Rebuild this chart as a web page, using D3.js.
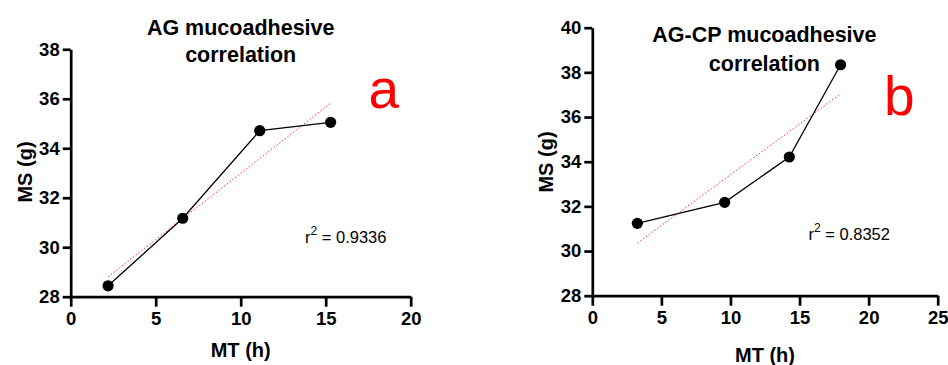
<!DOCTYPE html>
<html>
<head>
<meta charset="utf-8">
<script src="https://cdn.jsdelivr.net/npm/d3@7"></script>
<style>
  body { margin: 0; background: #fff; }
  svg { display: block; }
  text { font-family: "Liberation Sans", Arial, sans-serif; }
  .tick text { font-weight: bold; font-size: 18.5px; fill: #000; }
  .axis_title { font-weight: bold; font-size: 20px; }
  .panel_title { font-weight: bold; font-size: 21.5px; }
  .r2 { font-size: 16.5px; }
  .letter { font-size: 55px; fill: #ff0000; }
</style>
</head>
<body>
<div id="chart"></div>
<script>
// AG panel (a)
const agTime = [2.2, 6.59, 11.12, 15.29];
const agMS = [28.44, 31.17, 34.71, 35.05];
const agXTicks = [0, 5, 10, 15, 20];
const agYTicks = [28, 30, 32, 34, 36, 38];

// AG-CP panel (b)
const agcpTime = [3.26, 9.58, 14.26, 17.97];
const agcpMS = [31.24, 32.18, 34.21, 38.34];
const agcpXTicks = [0, 5, 10, 15, 20, 25];
const agcpYTicks = [28, 30, 32, 34, 36, 38, 40];

const titles = [["AG mucoadhesive", "correlation"], ["AG-CP mucoadhesive", "correlation"]];
const r2Labels = ["0.9336", "0.8352"];
const letters = ["a", "b"];

let svg = d3.select("#chart")
    .append("svg")
    .attr("width", 948)
    .attr("height", 365);

// least squares fit of y on x
function fitLine(xs, ys) {
    let mx = d3.mean(xs), my = d3.mean(ys);
    let sxy = d3.sum(xs, (x, i) => (x - mx) * (ys[i] - my));
    let sxx = d3.sum(xs, x => (x - mx) ** 2);
    let slope = sxy / sxx;
    return x => my + slope * (x - mx);
}

function drawPanel(cfg) {
    let x = d3.scaleLinear().domain(d3.extent(cfg.xTicks)).range([cfg.left, cfg.right]);
    let y = d3.scaleLinear().domain(d3.extent(cfg.yTicks)).range([cfg.bottom, cfg.top]);

    let g = svg.append("g");

    // axes
    let xAxis = g.append("g")
        .attr("transform", `translate(0,${cfg.bottom})`)
        .call(d3.axisBottom(x).tickValues(cfg.xTicks).tickSize(10).tickPadding(5).tickSizeOuter(0));
    let yAxis = g.append("g")
        .attr("transform", `translate(${cfg.left},0)`)
        .call(d3.axisLeft(y).tickValues(cfg.yTicks).tickSize(8).tickPadding(3).tickSizeOuter(0));
    [xAxis, yAxis].forEach(a => {
        a.select(".domain").attr("stroke", "#000").attr("stroke-width", 2.7);
        a.selectAll(".tick line").attr("stroke", "#000").attr("stroke-width", 2.7);
        a.attr("font-family", null).attr("font-size", null);
    });

    // regression line
    let f = fitLine(cfg.xs, cfg.ys);
    let ends = d3.extent(cfg.xs);
    g.append("line")
        .attr("x1", x(ends[0])).attr("y1", y(f(ends[0])))
        .attr("x2", x(ends[1])).attr("y2", y(f(ends[1])))
        .attr("stroke", "#ff3030")
        .attr("stroke-width", 1)
        .attr("stroke-dasharray", "1.5,2");

    // data line and points
    let pts = cfg.xs.map((v, i) => [v, cfg.ys[i]]);
    g.append("path")
        .datum(pts)
        .attr("fill", "none")
        .attr("stroke", "#000")
        .attr("stroke-width", 1.3)
        .attr("d", d3.line().x(d => x(d[0])).y(d => y(d[1])));
    g.selectAll(".pt")
        .data(pts)
        .enter()
        .append("circle")
        .attr("cx", d => x(d[0]))
        .attr("cy", d => y(d[1]))
        .attr("r", 5.6)
        .attr("fill", "#000");

    // titles
    g.append("text")
        .classed("panel_title", true)
        .attr("x", cfg.titleX).attr("y", cfg.titleY[0])
        .attr("text-anchor", "middle")
        .text(cfg.title[0]);
    g.append("text")
        .classed("panel_title", true)
        .attr("x", cfg.titleX).attr("y", cfg.titleY[1])
        .attr("text-anchor", "middle")
        .text(cfg.title[1]);

    g.append("text")
        .classed("axis_title", true)
        .attr("x", (cfg.left + cfg.right) / 2)
        .attr("y", cfg.xLabelY)
        .attr("text-anchor", "middle")
        .text("MT (h)");
    g.append("text")
        .classed("axis_title", true)
        .attr("transform", `translate(${cfg.yLabelX},${cfg.yLabelMid}) rotate(-90)`)
        .attr("text-anchor", "middle")
        .text("MS (g)");

    // r squared
    let r2 = g.append("text")
        .classed("r2", true)
        .attr("x", cfg.r2X).attr("y", cfg.r2Y);
    r2.append("tspan").text("r");
    r2.append("tspan").attr("dy", -8).attr("font-size", 12).text("2");
    r2.append("tspan").attr("dy", 8).text(" = " + cfg.r2);

    g.append("text")
        .classed("letter", true)
        .attr("x", cfg.letterX).attr("y", cfg.letterY)
        .text(cfg.letter);
}

drawPanel({
    xs: agTime, ys: agMS, xTicks: agXTicks, yTicks: agYTicks,
    left: 70.7, right: 410.7, top: 49.3, bottom: 296.7,
    title: titles[0], titleX: 240.7, titleY: [35, 62.3],
    xLabelY: 357, yLabelX: 32, yLabelMid: 172,
    r2: r2Labels[0], r2X: 305, r2Y: 243.3,
    letter: letters[0], letterX: 368.5, letterY: 107.5
});

drawPanel({
    xs: agcpTime, ys: agcpMS, xTicks: agcpXTicks, yTicks: agcpYTicks,
    left: 592.3, right: 937.7, top: 27.7, bottom: 295.7,
    title: titles[1], titleX: 764.4, titleY: [41.7, 71],
    xLabelY: 361.5, yLabelX: 553, yLabelMid: 162,
    r2: r2Labels[1], r2X: 808.5, r2Y: 239.5,
    letter: letters[1], letterX: 884, letterY: 115
});
</script>
</body>
</html>
